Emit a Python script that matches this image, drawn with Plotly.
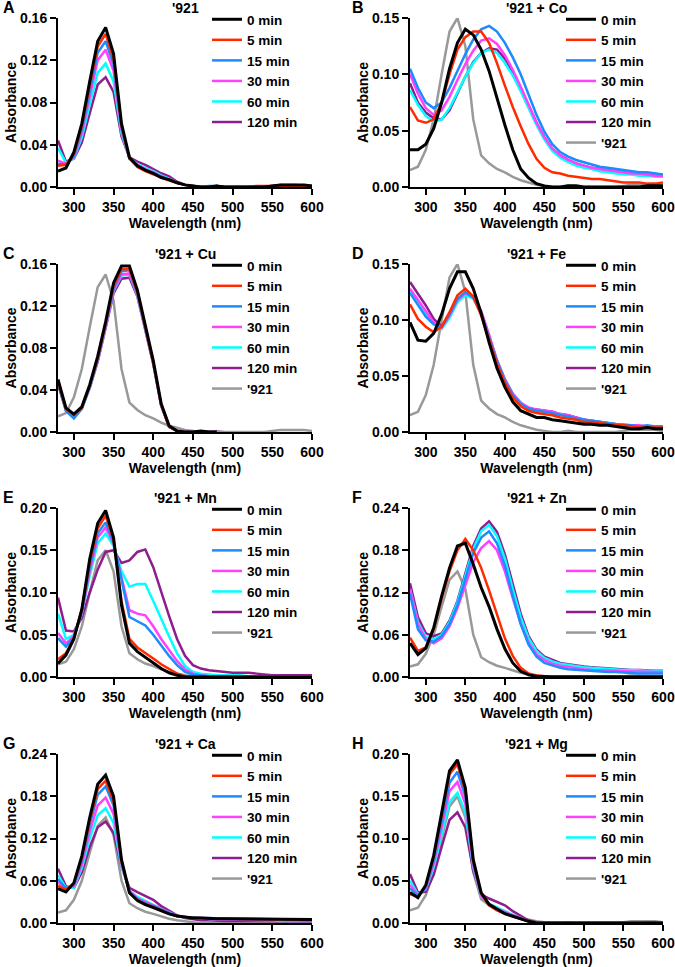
import plotly.graph_objects as go
from plotly.subplots import make_subplots

# wavelength grid (nm)
wl = [280, 290, 300, 310, 320, 330, 340, 350, 360, 370, 380, 390, 400, 410, 420, 430, 440,
      450, 460, 470, 480, 490, 500, 510, 520, 530, 540, 550, 560, 570, 580, 590, 600]

# '921 alone (reference trace, grey in panels B-H)
ref921 = [0.015, 0.018, 0.033, 0.060, 0.100, 0.138, 0.150, 0.125, 0.060, 0.028, 0.021, 0.016, 0.013, 0.009, 0.006, 0.004, 0.002,
          0.001, 0.000, 0.000, 0.001, 0.000, 0.000, 0.000, 0.000, 0.000, 0.000, 0.001, 0.002, 0.002, 0.002, 0.002, 0.001]

# A: '921
a_0 = [0.015, 0.018, 0.033, 0.060, 0.100, 0.138, 0.151, 0.126, 0.060, 0.028, 0.020, 0.016, 0.013, 0.009, 0.007, 0.004, 0.002,
       0.001, 0.000, 0.000, 0.001, 0.000, 0.000, 0.000, 0.000, 0.000, 0.000, 0.001, 0.002, 0.002, 0.002, 0.002, 0.001]
a_5 = [0.020, 0.021, 0.031, 0.057, 0.096, 0.133, 0.145, 0.121, 0.058, 0.027, 0.019, 0.015, 0.012, 0.009, 0.006, 0.004, 0.002,
       0.001, 0.000, 0.000, 0.001, 0.000, 0.000, 0.000, 0.000, 0.001, 0.001, 0.001, 0.001, 0.001, 0.001, 0.001, 0.001]
a_15 = [0.022, 0.021, 0.029, 0.054, 0.091, 0.127, 0.138, 0.116, 0.056, 0.027, 0.020, 0.016, 0.013, 0.010, 0.007, 0.004, 0.002,
        0.001, 0.000, 0.001, 0.001, 0.000, 0.000, 0.000, 0.000, 0.000, 0.000, 0.001, 0.001, 0.001, 0.001, 0.001, 0.001]
a_30 = [0.025, 0.022, 0.028, 0.051, 0.086, 0.120, 0.130, 0.110, 0.054, 0.027, 0.021, 0.017, 0.014, 0.010, 0.007, 0.004, 0.002,
        0.001, 0.000, 0.000, 0.000, 0.000, 0.000, 0.000, 0.000, 0.000, 0.000, 0.001, 0.001, 0.001, 0.001, 0.001, 0.001]
a_60 = [0.037, 0.023, 0.027, 0.047, 0.078, 0.108, 0.117, 0.100, 0.051, 0.027, 0.022, 0.018, 0.015, 0.011, 0.008, 0.004, 0.002,
        0.001, 0.000, 0.000, 0.001, 0.000, 0.000, 0.000, 0.000, 0.000, 0.000, 0.001, 0.001, 0.001, 0.001, 0.001, 0.001]
a_120 = [0.044, 0.024, 0.027, 0.042, 0.070, 0.097, 0.104, 0.090, 0.048, 0.028, 0.024, 0.021, 0.017, 0.013, 0.010, 0.005, 0.002,
         0.001, 0.000, 0.000, 0.001, 0.000, 0.000, 0.000, 0.000, 0.000, 0.000, 0.001, 0.002, 0.002, 0.002, 0.001, 0.001]

# B: '921 + Co
b_0 = [0.033, 0.033, 0.038, 0.052, 0.075, 0.105, 0.128, 0.140, 0.135, 0.122, 0.103, 0.078, 0.055, 0.033, 0.016, 0.008, 0.003,
       0.001, 0.000, 0.000, 0.001, 0.001, 0.000, 0.000, 0.000, 0.000, 0.000, 0.000, 0.000, 0.000, 0.001, 0.001, 0.001]
b_5 = [0.071, 0.059, 0.057, 0.060, 0.075, 0.100, 0.122, 0.133, 0.138, 0.138, 0.128, 0.110, 0.090, 0.071, 0.054, 0.038, 0.025,
       0.017, 0.013, 0.012, 0.010, 0.009, 0.008, 0.007, 0.007, 0.006, 0.005, 0.004, 0.004, 0.004, 0.003, 0.003, 0.004]
b_15 = [0.105, 0.088, 0.075, 0.070, 0.075, 0.088, 0.103, 0.118, 0.131, 0.140, 0.143, 0.138, 0.128, 0.115, 0.100, 0.082, 0.064,
        0.049, 0.038, 0.031, 0.027, 0.024, 0.022, 0.020, 0.018, 0.017, 0.016, 0.015, 0.014, 0.013, 0.013, 0.012, 0.011]
b_30 = [0.100, 0.083, 0.070, 0.064, 0.068, 0.080, 0.095, 0.109, 0.121, 0.130, 0.132, 0.127, 0.117, 0.104, 0.089, 0.073, 0.057,
        0.044, 0.034, 0.028, 0.024, 0.021, 0.019, 0.017, 0.016, 0.015, 0.014, 0.013, 0.012, 0.012, 0.011, 0.010, 0.010]
b_60 = [0.086, 0.073, 0.063, 0.058, 0.060, 0.070, 0.084, 0.098, 0.110, 0.119, 0.122, 0.119, 0.110, 0.099, 0.085, 0.070, 0.055,
        0.042, 0.032, 0.026, 0.022, 0.019, 0.017, 0.016, 0.014, 0.013, 0.012, 0.011, 0.011, 0.010, 0.010, 0.009, 0.009]
b_120 = [0.092, 0.075, 0.066, 0.061, 0.060, 0.068, 0.083, 0.098, 0.111, 0.119, 0.123, 0.122, 0.114, 0.102, 0.088, 0.072, 0.057,
         0.044, 0.034, 0.028, 0.024, 0.021, 0.019, 0.017, 0.016, 0.015, 0.014, 0.013, 0.012, 0.011, 0.011, 0.010, 0.010]

# C: '921 + Cu (measured only up to 480 nm)
c_0 = [0.050, 0.023, 0.017, 0.024, 0.045, 0.072, 0.105, 0.142, 0.158, 0.158, 0.135, 0.103, 0.068, 0.027, 0.006, 0.001, 0.000,
       0.000, 0.001, 0.000, 0.000]
c_5 = [0.047, 0.022, 0.016, 0.023, 0.044, 0.070, 0.103, 0.139, 0.155, 0.155, 0.133, 0.101, 0.066, 0.026, 0.005, 0.001, 0.000,
       0.000, 0.000, 0.000, 0.000]
c_15 = [0.046, 0.020, 0.013, 0.022, 0.043, 0.069, 0.102, 0.137, 0.153, 0.154, 0.132, 0.100, 0.066, 0.026, 0.005, 0.001, 0.000,
        0.000, 0.000, 0.000, 0.000]
c_30 = [0.046, 0.021, 0.015, 0.022, 0.043, 0.068, 0.100, 0.135, 0.150, 0.151, 0.131, 0.099, 0.065, 0.025, 0.005, 0.001, 0.000,
        0.000, 0.000, 0.000, 0.000]
c_60 = [0.046, 0.021, 0.014, 0.022, 0.042, 0.068, 0.100, 0.134, 0.149, 0.150, 0.130, 0.099, 0.065, 0.025, 0.005, 0.001, 0.000,
        0.000, 0.000, 0.000, 0.000]
c_120 = [0.046, 0.022, 0.016, 0.023, 0.042, 0.067, 0.099, 0.132, 0.146, 0.147, 0.129, 0.098, 0.065, 0.025, 0.005, 0.001, 0.000,
         0.000, 0.000, 0.000, 0.000]

# D: '921 + Fe
d_0 = [0.098, 0.082, 0.081, 0.088, 0.105, 0.128, 0.143, 0.143, 0.128, 0.106, 0.080, 0.057, 0.040, 0.027, 0.019, 0.016, 0.013,
       0.013, 0.011, 0.010, 0.009, 0.008, 0.007, 0.007, 0.006, 0.006, 0.005, 0.004, 0.003, 0.003, 0.004, 0.003, 0.003]
d_5 = [0.114, 0.101, 0.094, 0.089, 0.094, 0.107, 0.122, 0.128, 0.121, 0.104, 0.083, 0.061, 0.044, 0.031, 0.023, 0.019, 0.017,
       0.016, 0.015, 0.013, 0.012, 0.011, 0.009, 0.009, 0.008, 0.007, 0.006, 0.006, 0.005, 0.004, 0.004, 0.004, 0.004]
d_15 = [0.124, 0.113, 0.103, 0.096, 0.094, 0.105, 0.119, 0.125, 0.120, 0.106, 0.085, 0.063, 0.046, 0.033, 0.025, 0.021, 0.019,
        0.018, 0.017, 0.015, 0.014, 0.012, 0.011, 0.010, 0.009, 0.008, 0.007, 0.006, 0.006, 0.005, 0.006, 0.005, 0.005]
d_30 = [0.128, 0.118, 0.107, 0.098, 0.093, 0.104, 0.118, 0.124, 0.121, 0.108, 0.087, 0.064, 0.047, 0.034, 0.026, 0.022, 0.020,
        0.019, 0.018, 0.016, 0.015, 0.013, 0.011, 0.010, 0.009, 0.008, 0.007, 0.007, 0.006, 0.006, 0.005, 0.005, 0.005]
d_60 = [0.126, 0.116, 0.105, 0.097, 0.092, 0.102, 0.116, 0.122, 0.119, 0.106, 0.086, 0.064, 0.047, 0.034, 0.026, 0.021, 0.019,
        0.018, 0.017, 0.016, 0.014, 0.012, 0.011, 0.010, 0.009, 0.008, 0.007, 0.006, 0.006, 0.005, 0.005, 0.005, 0.005]
d_120 = [0.134, 0.124, 0.113, 0.101, 0.094, 0.103, 0.117, 0.123, 0.120, 0.107, 0.086, 0.064, 0.047, 0.034, 0.026, 0.021, 0.020,
         0.019, 0.018, 0.016, 0.015, 0.013, 0.011, 0.010, 0.009, 0.008, 0.007, 0.006, 0.006, 0.005, 0.005, 0.005, 0.004]

# E: '921 + Mn
e_0 = [0.016, 0.026, 0.045, 0.080, 0.140, 0.182, 0.197, 0.165, 0.085, 0.040, 0.030, 0.023, 0.016, 0.010, 0.005, 0.002, 0.000,
       0.000, 0.000, 0.000, 0.000, 0.000, 0.000, 0.000, 0.000, 0.000, 0.000, 0.000, 0.000, 0.000, 0.000, 0.000, 0.000]
e_5 = [0.021, 0.028, 0.046, 0.080, 0.135, 0.176, 0.191, 0.162, 0.090, 0.045, 0.035, 0.029, 0.022, 0.015, 0.009, 0.004, 0.001,
       0.000, 0.000, 0.000, 0.000, 0.000, 0.000, 0.000, 0.000, 0.000, 0.000, 0.000, 0.000, 0.000, 0.000, 0.000, 0.000]
e_15 = [0.046, 0.036, 0.047, 0.078, 0.130, 0.170, 0.183, 0.160, 0.115, 0.071, 0.066, 0.061, 0.050, 0.037, 0.025, 0.014, 0.006,
        0.003, 0.002, 0.001, 0.001, 0.001, 0.001, 0.001, 0.000, 0.000, 0.000, 0.000, 0.000, 0.000, 0.000, 0.000, 0.000]
e_30 = [0.052, 0.040, 0.048, 0.076, 0.125, 0.165, 0.177, 0.158, 0.118, 0.079, 0.075, 0.073, 0.060, 0.045, 0.032, 0.019, 0.009,
        0.004, 0.002, 0.001, 0.001, 0.001, 0.001, 0.001, 0.001, 0.001, 0.001, 0.001, 0.001, 0.001, 0.001, 0.001, 0.001]
e_60 = [0.075, 0.045, 0.050, 0.075, 0.120, 0.158, 0.170, 0.155, 0.125, 0.107, 0.110, 0.110, 0.090, 0.068, 0.048, 0.028, 0.013,
        0.006, 0.004, 0.003, 0.002, 0.002, 0.002, 0.002, 0.001, 0.001, 0.001, 0.001, 0.001, 0.001, 0.001, 0.001, 0.001]
e_120 = [0.094, 0.055, 0.054, 0.070, 0.100, 0.127, 0.148, 0.150, 0.135, 0.138, 0.148, 0.151, 0.130, 0.100, 0.072, 0.045, 0.025,
         0.014, 0.010, 0.008, 0.007, 0.006, 0.005, 0.005, 0.005, 0.004, 0.003, 0.002, 0.002, 0.002, 0.002, 0.002, 0.002]

# F: '921 + Zn
f_0 = [0.048, 0.032, 0.041, 0.070, 0.115, 0.155, 0.186, 0.190, 0.160, 0.127, 0.100, 0.068, 0.040, 0.020, 0.008, 0.003, 0.001,
       0.000, 0.000, 0.000, 0.000, 0.000, 0.000, 0.000, 0.000, 0.000, 0.000, 0.000, 0.000, 0.000, 0.000, 0.000, 0.000]
f_5 = [0.056, 0.037, 0.042, 0.068, 0.112, 0.150, 0.180, 0.196, 0.180, 0.155, 0.123, 0.088, 0.055, 0.030, 0.013, 0.005, 0.002,
       0.001, 0.001, 0.001, 0.001, 0.001, 0.001, 0.001, 0.001, 0.001, 0.001, 0.001, 0.001, 0.001, 0.001, 0.001, 0.001]
f_15 = [0.118, 0.068, 0.052, 0.050, 0.058, 0.075, 0.102, 0.140, 0.176, 0.198, 0.207, 0.190, 0.158, 0.115, 0.075, 0.046, 0.029,
        0.020, 0.016, 0.013, 0.011, 0.010, 0.009, 0.008, 0.008, 0.007, 0.007, 0.006, 0.006, 0.005, 0.005, 0.005, 0.005]
f_30 = [0.125, 0.075, 0.054, 0.048, 0.055, 0.072, 0.098, 0.132, 0.163, 0.183, 0.193, 0.180, 0.150, 0.112, 0.076, 0.049, 0.032,
        0.024, 0.019, 0.016, 0.014, 0.012, 0.011, 0.010, 0.010, 0.009, 0.009, 0.008, 0.008, 0.008, 0.007, 0.007, 0.007]
f_60 = [0.125, 0.078, 0.057, 0.053, 0.060, 0.078, 0.106, 0.145, 0.182, 0.207, 0.216, 0.200, 0.168, 0.125, 0.085, 0.055, 0.037,
        0.027, 0.022, 0.019, 0.017, 0.015, 0.014, 0.013, 0.012, 0.011, 0.011, 0.010, 0.010, 0.009, 0.009, 0.009, 0.008]
f_120 = [0.133, 0.085, 0.062, 0.058, 0.062, 0.080, 0.108, 0.148, 0.186, 0.211, 0.221, 0.206, 0.174, 0.132, 0.090, 0.058, 0.039,
         0.029, 0.024, 0.020, 0.018, 0.016, 0.015, 0.014, 0.013, 0.012, 0.012, 0.011, 0.010, 0.010, 0.009, 0.009, 0.009]

# G: '921 + Ca
g_0 = [0.049, 0.044, 0.057, 0.095, 0.150, 0.197, 0.210, 0.180, 0.090, 0.043, 0.032, 0.026, 0.022, 0.017, 0.013, 0.010, 0.008,
       0.007, 0.007, 0.006, 0.006, 0.006, 0.006, 0.006, 0.006, 0.006, 0.006, 0.006, 0.005, 0.005, 0.005, 0.005, 0.005]
g_5 = [0.053, 0.047, 0.056, 0.092, 0.145, 0.190, 0.202, 0.173, 0.088, 0.043, 0.033, 0.027, 0.023, 0.018, 0.013, 0.010, 0.008,
       0.007, 0.007, 0.006, 0.006, 0.006, 0.006, 0.006, 0.006, 0.006, 0.005, 0.005, 0.005, 0.005, 0.005, 0.004, 0.004]
g_15 = [0.062, 0.049, 0.054, 0.088, 0.140, 0.182, 0.194, 0.167, 0.087, 0.044, 0.034, 0.028, 0.024, 0.019, 0.014, 0.010, 0.008,
        0.007, 0.007, 0.007, 0.006, 0.006, 0.006, 0.006, 0.006, 0.006, 0.006, 0.006, 0.006, 0.005, 0.005, 0.005, 0.005]
g_30 = [0.058, 0.049, 0.052, 0.083, 0.130, 0.167, 0.178, 0.155, 0.083, 0.045, 0.035, 0.030, 0.025, 0.019, 0.014, 0.010, 0.008,
        0.007, 0.006, 0.006, 0.005, 0.005, 0.005, 0.005, 0.004, 0.004, 0.004, 0.004, 0.004, 0.003, 0.003, 0.003, 0.003]
g_60 = [0.068, 0.050, 0.050, 0.078, 0.120, 0.153, 0.163, 0.142, 0.080, 0.046, 0.037, 0.031, 0.026, 0.020, 0.015, 0.010, 0.008,
        0.007, 0.006, 0.006, 0.005, 0.005, 0.005, 0.004, 0.004, 0.004, 0.004, 0.004, 0.003, 0.003, 0.003, 0.003, 0.003]
g_120 = [0.077, 0.052, 0.050, 0.072, 0.108, 0.136, 0.144, 0.128, 0.080, 0.050, 0.044, 0.039, 0.033, 0.024, 0.017, 0.011, 0.007,
         0.005, 0.004, 0.004, 0.003, 0.003, 0.003, 0.003, 0.003, 0.002, 0.002, 0.002, 0.002, 0.002, 0.002, 0.002, 0.002]

# H: '921 + Mg
h_0 = [0.036, 0.030, 0.045, 0.080, 0.130, 0.180, 0.193, 0.160, 0.075, 0.036, 0.022, 0.016, 0.011, 0.008, 0.005, 0.002, 0.000,
       0.000, 0.000, 0.000, 0.000, 0.000, 0.000, 0.000, 0.000, 0.000, 0.000, 0.000, 0.000, 0.000, 0.000, 0.000, 0.000]
h_5 = [0.034, 0.031, 0.044, 0.078, 0.127, 0.176, 0.188, 0.156, 0.073, 0.035, 0.021, 0.015, 0.011, 0.008, 0.005, 0.002, 0.000,
       0.000, 0.000, 0.000, 0.000, 0.000, 0.000, 0.000, 0.000, 0.000, 0.000, 0.000, 0.000, 0.000, 0.001, 0.001, 0.000]
h_15 = [0.041, 0.032, 0.042, 0.074, 0.120, 0.166, 0.179, 0.150, 0.071, 0.034, 0.022, 0.016, 0.012, 0.008, 0.005, 0.002, 0.000,
        0.000, 0.000, 0.000, 0.000, 0.000, 0.000, 0.000, 0.000, 0.000, 0.000, 0.000, 0.000, 0.000, 0.000, 0.000, 0.000]
h_30 = [0.045, 0.033, 0.041, 0.070, 0.113, 0.156, 0.167, 0.141, 0.068, 0.032, 0.022, 0.017, 0.013, 0.009, 0.006, 0.002, 0.000,
        0.000, 0.000, 0.000, 0.000, 0.000, 0.000, 0.000, 0.000, 0.000, 0.000, 0.000, 0.000, 0.000, 0.000, 0.000, 0.000]
h_60 = [0.050, 0.034, 0.040, 0.066, 0.105, 0.143, 0.154, 0.131, 0.066, 0.031, 0.023, 0.018, 0.014, 0.010, 0.006, 0.002, 0.000,
        0.000, 0.000, 0.000, 0.000, 0.000, 0.000, 0.000, 0.000, 0.000, 0.000, 0.000, 0.000, 0.000, 0.000, 0.000, 0.000]
h_120 = [0.058, 0.036, 0.037, 0.057, 0.090, 0.122, 0.131, 0.113, 0.062, 0.034, 0.029, 0.025, 0.021, 0.014, 0.008, 0.003, 0.001,
         0.000, 0.000, 0.000, 0.000, 0.000, 0.000, 0.000, 0.000, 0.000, 0.000, 0.000, 0.000, 0.000, 0.000, 0.000, 0.000]

time_labels = ["0 min", "5 min", "15 min", "30 min", "60 min", "120 min"]
colors = ["#000000", "#ff2a00", "#1a8cff", "#ff40ff", "#00ffff", "#8e1e8e"]
ref_color = "#999999"

panels = [
    ("A", "'921", [a_0, a_5, a_15, a_30, a_60, a_120], False, 0.16, 0.04),
    ("B", "'921 + Co", [b_0, b_5, b_15, b_30, b_60, b_120], True, 0.15, 0.05),
    ("C", "'921 + Cu", [c_0, c_5, c_15, c_30, c_60, c_120], True, 0.16, 0.04),
    ("D", "'921 + Fe", [d_0, d_5, d_15, d_30, d_60, d_120], True, 0.15, 0.05),
    ("E", "'921 + Mn", [e_0, e_5, e_15, e_30, e_60, e_120], True, 0.20, 0.05),
    ("F", "'921 + Zn", [f_0, f_5, f_15, f_30, f_60, f_120], True, 0.24, 0.06),
    ("G", "'921 + Ca", [g_0, g_5, g_15, g_30, g_60, g_120], True, 0.24, 0.06),
    ("H", "'921 + Mg", [h_0, h_5, h_15, h_30, h_60, h_120], True, 0.20, 0.05),
]

W, H = 675, 967
FONT = "Arial, Liberation Sans, sans-serif"
col_px = [(58, 312), (410, 663)]
row_px = [(18, 187), (264, 432), (508, 677), (754, 923)]


def px_x(p):
    return p / W


def px_y(p):
    return 1 - p / H


def bold(size):
    return dict(family=FONT, size=size, color="black", weight="bold")


fig = make_subplots(rows=4, cols=2)
annotations = []
for i, (letter, title, series, with_ref, ymax, dtick) in enumerate(panels):
    r, c = i // 2 + 1, i % 2 + 1
    x0, x1 = col_px[c - 1]
    y0, y1 = row_px[r - 1]
    lg = "legend" if i == 0 else f"legend{i + 1}"

    if with_ref:
        fig.add_trace(go.Scatter(x=wl, y=ref921, mode="lines", name="'921", legend=lg,
                                 line=dict(color=ref_color, width=2.5)), row=r, col=c)
    # draw 120 min first so 0 min ends up on top
    for k in range(5, -1, -1):
        ys = series[k]
        fig.add_trace(go.Scatter(x=wl[:len(ys)], y=ys, mode="lines", name=time_labels[k], legend=lg,
                                 line=dict(color=colors[k], width=3 if k == 0 else 2.5)), row=r, col=c)

    fig.update_xaxes(domain=[px_x(x0), px_x(x1)], range=[280, 600], tickvals=[300, 350, 400, 450, 500, 550, 600],
                     showline=True, linecolor="black", linewidth=2, ticks="outside", ticklen=6, tickwidth=2,
                     tickcolor="black", showgrid=False, zeroline=False, automargin=False,
                     tickfont=bold(14), title=dict(text="Wavelength (nm)", standoff=3, font=bold(14)),
                     row=r, col=c)
    ticks = [round(dtick * j, 2) for j in range(int(round(ymax / dtick)) + 1)]
    fig.update_yaxes(domain=[px_y(y1), px_y(y0)], range=[0, ymax], tickvals=ticks, tickformat=".2f",
                     showline=True, linecolor="black", linewidth=2, ticks="outside", ticklen=6, tickwidth=2,
                     tickcolor="black", showgrid=False, zeroline=False, automargin=False,
                     tickfont=bold(14), title=dict(text="Absorbance", standoff=0, font=bold(14)),
                     row=r, col=c)

    leg_left = 207 if c == 1 else 561
    fig.update_layout({lg: dict(x=px_x(leg_left), xanchor="left", y=px_y(y0 - 14), yanchor="top",
                                traceorder="reversed", bgcolor="rgba(0,0,0,0)", font=bold(13.5))})

    annotations.append(dict(text=title, x=px_x((x0 + x1) / 2), y=px_y(y0 - 10), xref="paper", yref="paper",
                            xanchor="center", yanchor="middle", showarrow=False, font=bold(14)))
    annotations.append(dict(text=letter, x=px_x(1 if c == 1 else 350), y=px_y(y0 - 11), xref="paper",
                            yref="paper", xanchor="left", yanchor="middle", showarrow=False, font=bold(16)))

fig.update_layout(template="none", width=W, height=H, margin=dict(l=0, r=0, t=0, b=0, pad=0),
                  plot_bgcolor="white", paper_bgcolor="white", showlegend=True, annotations=annotations)
# drop the browser's default 8px body margin so the figure sits at the page corner
fig.write_html("out.html", config={"displayModeBar": False},
               post_script="document.body.style.margin = '0';")
